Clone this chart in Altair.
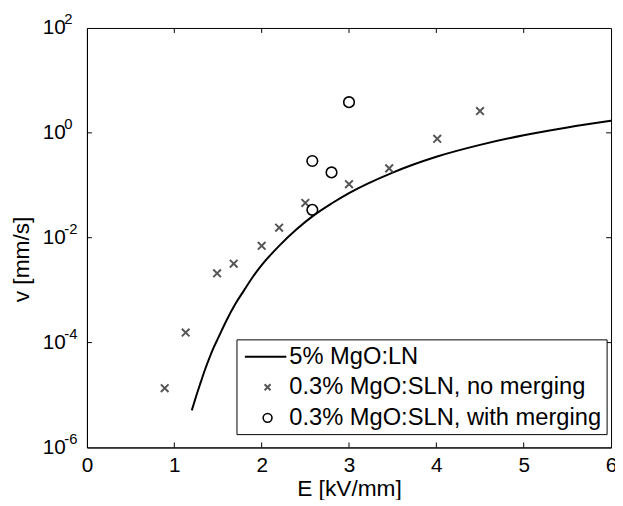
import altair as alt
import pandas as pd

# ---- data ----
E_curve = [1.2, 1.25, 1.3, 1.35, 1.4, 1.45, 1.5, 1.6, 1.7, 1.8, 1.9, 2.0, 2.2, 2.4, 2.6, 2.8, 3.0,
           3.5, 4.0, 4.5, 5.0, 5.5, 6.0]
v_curve = [5.1e-6, 9.5e-6, 1.7e-5, 3.0e-5, 5.0e-5, 8.0e-5, 1.2e-4, 2.7e-4, 5.5e-4, 1.0e-3,
           1.8e-3, 3.0e-3, 7.0e-3, 1.45e-2, 2.7e-2, 4.5e-2, 7.1e-2, 0.175, 0.35, 0.59, 0.90,
           1.27, 1.70]

E_nomerge = [0.89, 1.13, 1.49, 1.68, 2.0, 2.2, 2.5, 3.0, 3.46, 4.01, 4.5]
v_nomerge = [1.35e-5, 1.55e-4, 2.1e-3, 3.2e-3, 7.0e-3, 1.55e-2, 4.6e-2, 0.105, 0.21, 0.77, 2.6]

E_merge = [2.58, 2.58, 2.8, 3.0]
v_merge = [0.034, 0.29, 0.176, 3.85]

x_ticks = [0, 1, 2, 3, 4, 5, 6]
y_ticks = [1e-6, 1e-4, 1e-2, 1, 100]
y_exps = ["-6", "-4", "-2", "0", "2"]
x_inner_ticks = [1, 2, 3, 4, 5]
y_inner_ticks = [1e-4, 1e-2, 1]

legend_labels = ["5% MgO:LN", "0.3% MgO:SLN, no merging", "0.3% MgO:SLN, with merging"]

FONT = "Liberation Sans"
W, H = 531, 425

curve_df = pd.DataFrame({"E": E_curve, "v": v_curve})
nomerge_df = pd.DataFrame({"E": E_nomerge, "v": v_nomerge})
merge_df = pd.DataFrame({"E": E_merge, "v": v_merge})
ytick_df = pd.DataFrame({"v": y_ticks, "e": y_exps})
xin_df = pd.DataFrame({"E": x_inner_ticks})
yin_df = pd.DataFrame({"v": y_inner_ticks})
one = pd.DataFrame({"a": [0]})

xscale = alt.Scale(domain=[0, 6], nice=False, zero=False)
yscale = alt.Scale(type="log", domain=[1e-6, 100], nice=False)

xaxis = alt.Axis(values=x_ticks, format="d", ticks=False, tickSize=0, grid=False,
                 labelFont=FONT, labelFontSize=21, labelColor="black", labelPadding=7,
                 labelFlush=False, labelOverlap=False, labelBound=False,
                 domainColor="black", domainWidth=1,
                 title="E [kV/mm]", titleFont=FONT, titleFontSize=23,
                 titleFontWeight="normal", titleColor="black", titleY=31)
yaxis = alt.Axis(values=y_ticks, labelExpr="'10'", ticks=False, tickSize=0, grid=False,
                 labelFont=FONT, labelFontSize=21, labelColor="black", labelPadding=22,
                 labelOverlap=False, labelBound=False,
                 domainColor="black", domainWidth=1,
                 title="v [mm/s]", titleFont=FONT, titleFontSize=23,
                 titleFontWeight="normal", titleColor="black", titleX=-54, titleY=234)

X = alt.X("E:Q", scale=xscale, axis=xaxis)
Y = alt.Y("v:Q", scale=yscale, axis=yaxis)

line = alt.Chart(curve_df).mark_line(color="black", strokeWidth=2, interpolate="monotone").encode(x=X, y=Y)

cross_path = "M-1,-1L1,1M-1,1L1,-1"
crosses = alt.Chart(nomerge_df).mark_point(
    shape=cross_path, filled=False, stroke="#555555", strokeWidth=2, size=60, opacity=1
).encode(x=X, y=Y)

circles = alt.Chart(merge_df).mark_point(
    shape="circle", filled=False, stroke="black", strokeWidth=1.6, size=115, opacity=1
).encode(x=X, y=Y)

exps = alt.Chart(ytick_df).mark_text(
    align="left", baseline="middle", dy=-9, font=FONT, fontSize=15, color="black"
).encode(x=alt.value(-23), y=Y, text="e:N")

# inward ticks (MATLAB style)
xt_bottom = alt.Chart(xin_df).mark_rule(color="black", strokeWidth=1).encode(
    x=X, y=alt.value(H), y2=alt.value(H - 5))
xt_top = alt.Chart(xin_df).mark_rule(color="black", strokeWidth=1).encode(
    x=X, y=alt.value(0), y2=alt.value(5))
yt_left = alt.Chart(yin_df).mark_rule(color="black", strokeWidth=1).encode(
    y=Y, x=alt.value(0), x2=alt.value(5))
yt_right = alt.Chart(yin_df).mark_rule(color="black", strokeWidth=1).encode(
    y=Y, x=alt.value(W), x2=alt.value(W - 5))

# manual legend
lx0, lx1, ly0, ly1 = 152, 527, 316, 412
rows = [333, 364, 395]
leg_box = alt.Chart(one).mark_rect(fill="white", stroke="black", strokeWidth=1).encode(
    x=alt.value(lx0), x2=alt.value(lx1), y=alt.value(ly0), y2=alt.value(ly1))
leg_line = alt.Chart(one).mark_rule(color="black", strokeWidth=2).encode(
    x=alt.value(160), x2=alt.value(202), y=alt.value(rows[0]))
leg_cross = alt.Chart(one).mark_point(
    shape=cross_path, filled=False, stroke="#555555", strokeWidth=2, size=36, opacity=1
).encode(x=alt.value(183), y=alt.value(rows[1]))
leg_circle = alt.Chart(one).mark_point(
    shape="circle", filled=False, stroke="black", strokeWidth=1.6, size=80, opacity=1
).encode(x=alt.value(183), y=alt.value(rows[2]))
leg_texts = [
    alt.Chart(one).mark_text(align="left", baseline="middle", font=FONT, fontSize=24,
                             color="black").encode(
        x=alt.value(205), y=alt.value(r), text=alt.value(t))
    for t, r in zip(legend_labels, rows)
]

chart = alt.layer(
    line, crosses, circles, exps, xt_bottom, xt_top, yt_left, yt_right,
    leg_box, leg_line, leg_cross, leg_circle, *leg_texts
).properties(
    width=W, height=H,
    autosize=alt.AutoSizeParams(type="none"),
    padding={"left": 80, "top": 17, "right": 4, "bottom": 50},
    background="white",
).configure_view(stroke="black", strokeWidth=1)

chart.save("out.html", embed_options={"renderer": "svg", "actions": False})
